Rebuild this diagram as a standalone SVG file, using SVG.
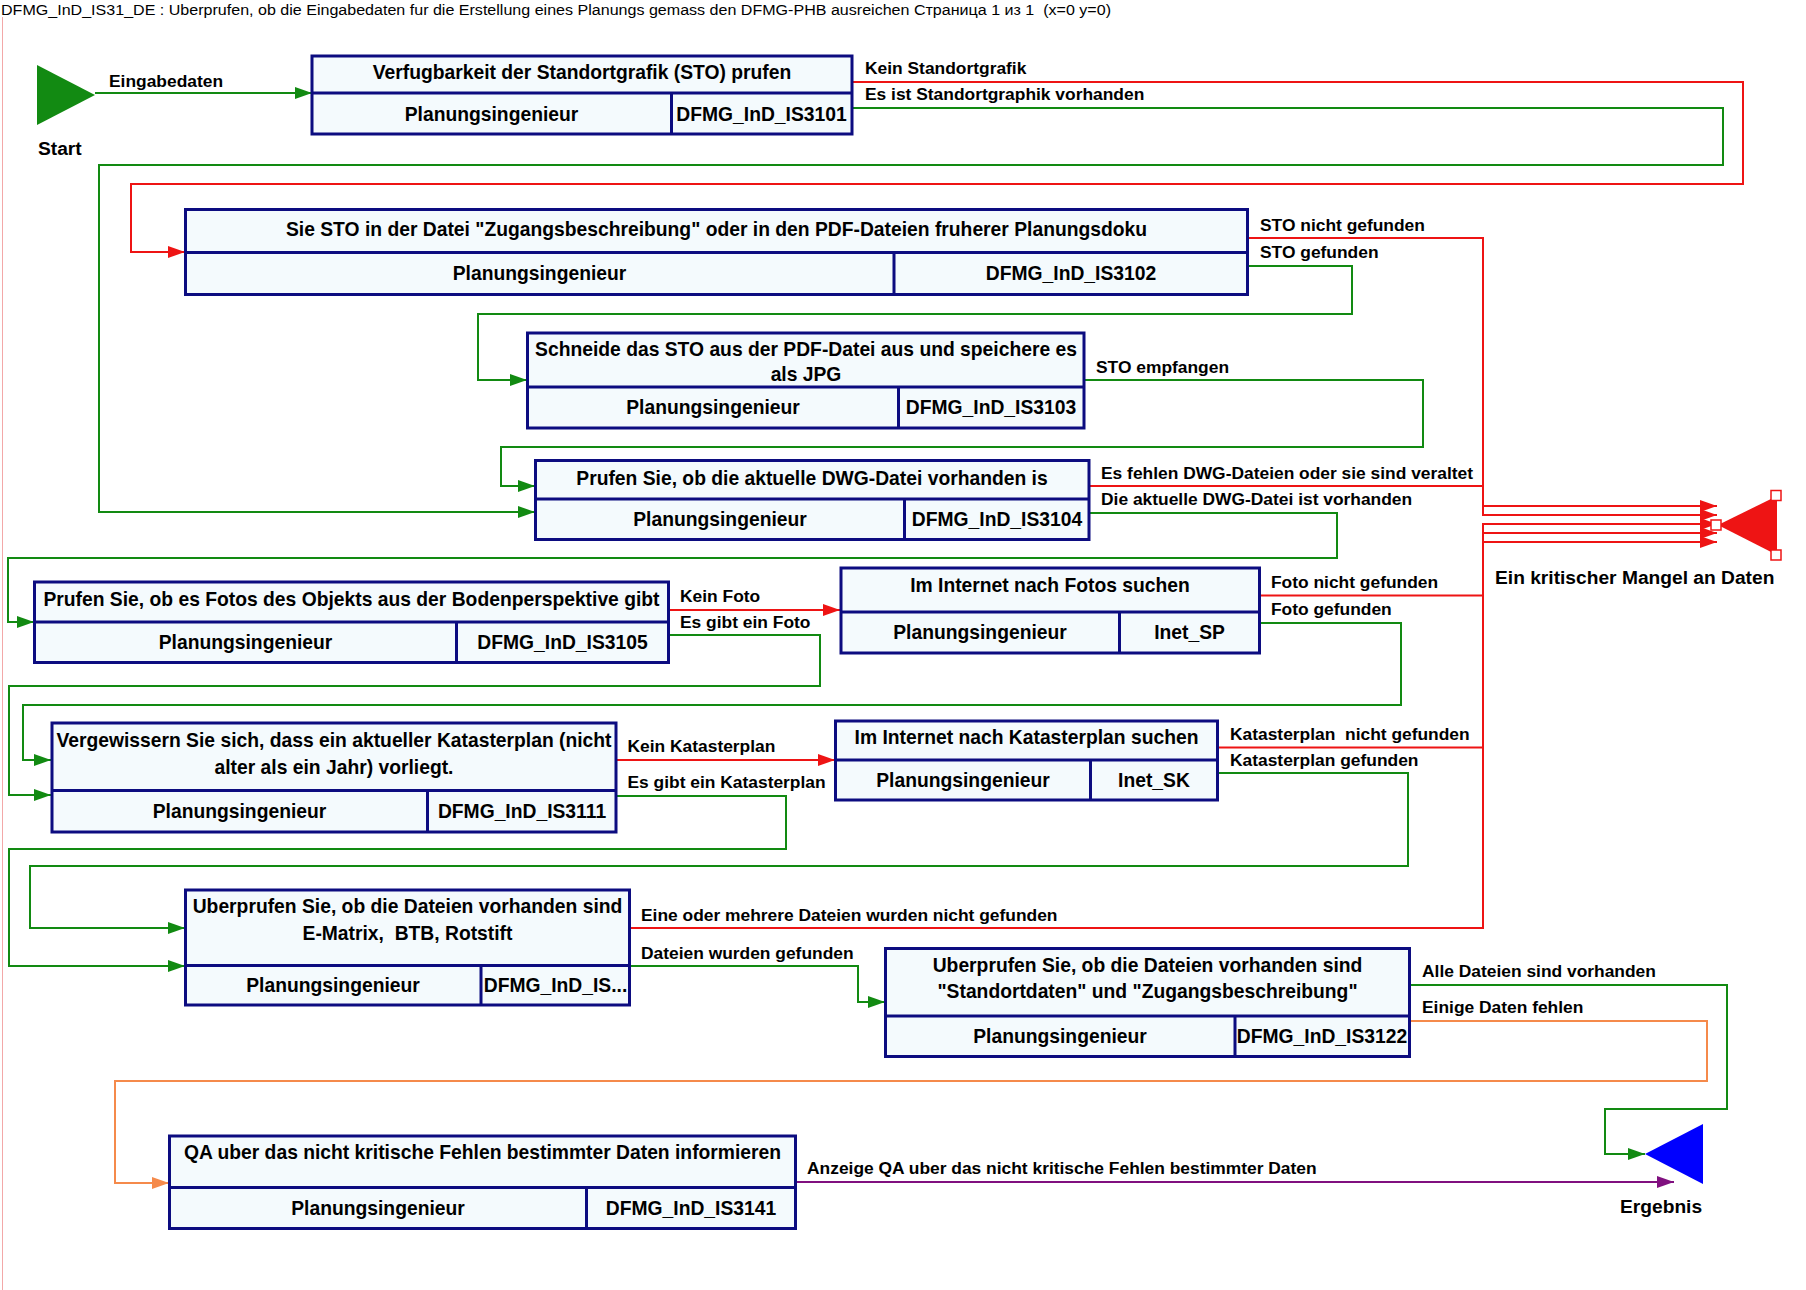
<svg xmlns="http://www.w3.org/2000/svg" width="1806" height="1290" viewBox="0 0 1806 1290">
<style>
.box{fill:#f4fafd;stroke:#0c0c80;stroke-width:3}
.dv{stroke:#0c0c80;stroke-width:3;fill:none}
.t{font-family:"Liberation Sans",Arial,sans-serif;font-weight:bold;font-size:19.3px;text-anchor:middle;fill:#000}
.lb{font-family:"Liberation Sans",Arial,sans-serif;font-weight:bold;font-size:17.4px;fill:#000}
.en{font-family:"Liberation Sans",Arial,sans-serif;font-weight:bold;font-size:19.2px;fill:#000}
.c{fill:none;stroke-width:2}
.g{stroke:#128a12}
.r{stroke:#ee1414}
.o{stroke:#f58a4b}
.p{stroke:#80107f}
.h{fill:#fff;stroke:#ee1414;stroke-width:1.5}
</style>
<defs>
<marker id="ag" viewBox="0 0 17 12" refX="17" refY="6" markerWidth="17" markerHeight="12" markerUnits="userSpaceOnUse" orient="auto"><path d="M0,0 L17,6 L0,12 z" fill="#128a12"/></marker>
<marker id="ar" viewBox="0 0 17 12" refX="17" refY="6" markerWidth="17" markerHeight="12" markerUnits="userSpaceOnUse" orient="auto"><path d="M0,0 L17,6 L0,12 z" fill="#ee1414"/></marker>
<marker id="ao" viewBox="0 0 17 12" refX="17" refY="6" markerWidth="17" markerHeight="12" markerUnits="userSpaceOnUse" orient="auto"><path d="M0,0 L17,6 L0,12 z" fill="#f58a4b"/></marker>
<marker id="ap" viewBox="0 0 17 12" refX="17" refY="6" markerWidth="17" markerHeight="12" markerUnits="userSpaceOnUse" orient="auto"><path d="M0,0 L17,6 L0,12 z" fill="#80107f"/></marker>
</defs>
<rect width="1806" height="1290" fill="#fff"/>
<line x1="2.5" y1="17" x2="2.5" y2="1290" stroke="#f3a8a8" stroke-width="1"/>
<text x="1" y="15" font-family="Liberation Sans,Arial,sans-serif" font-size="14" textLength="1110" lengthAdjust="spacingAndGlyphs" xml:space="preserve">DFMG_InD_IS31_DE : Uberprufen, ob die Eingabedaten fur die Erstellung eines Planungs gemass den DFMG-PHB ausreichen Страница 1 из 1  (x=0 y=0)</text>

<g id="connectors">
<path class="c g" d="M95,93 H312" marker-end="url(#ag)"/>
<path class="c r" d="M852,82 H1743 V184 H131 V252 H185" marker-end="url(#ar)"/>
<path class="c g" d="M852,108 H1723 V165 H99 V512 H535" marker-end="url(#ag)"/>
<path class="c r" d="M1248,238 H1483 V506 H1717" marker-end="url(#ar)"/>
<path class="c g" d="M1248,266 H1352 V314 H478 V380 H527" marker-end="url(#ag)"/>
<path class="c g" d="M1084,380 H1423 V447 H501 V486 H535" marker-end="url(#ag)"/>
<path class="c r" d="M1089,486 H1483 V515 H1717" marker-end="url(#ar)"/>
<path class="c g" d="M1089,513 H1337 V558 H8 V622 H34" marker-end="url(#ag)"/>
<path class="c r" d="M668,610 H840" marker-end="url(#ar)"/>
<path class="c g" d="M668,635 H820 V686 H9 V795 H51" marker-end="url(#ag)"/>
<path class="c r" d="M1260,595.5 H1483 V524 H1717" marker-end="url(#ar)"/>
<path class="c g" d="M1260,623 H1401 V705 H23 V760 H51" marker-end="url(#ag)"/>
<path class="c r" d="M616,760 H835" marker-end="url(#ar)"/>
<path class="c g" d="M616,796 H786 V849 H9 V966 H185" marker-end="url(#ag)"/>
<path class="c r" d="M1218,747.5 H1483 V533 H1717" marker-end="url(#ar)"/>
<path class="c g" d="M1218,773 H1408 V866 H30 V928 H185" marker-end="url(#ag)"/>
<path class="c r" d="M630,928 H1483 V542 H1717" marker-end="url(#ar)"/>
<path class="c g" d="M630,966 H858 V1002 H885" marker-end="url(#ag)"/>
<path class="c g" d="M1410,985 H1727 V1109 H1605 V1154 H1645" marker-end="url(#ag)"/>
<path class="c o" d="M1410,1021 H1707 V1081 H115 V1183 H169" marker-end="url(#ao)"/>
<path class="c p" d="M796,1182 H1674" marker-end="url(#ap)"/>
<g id="connector-labels">
<text class="lb" x="109" y="87">Eingabedaten</text>
<text class="lb" x="865" y="74">Kein Standortgrafik</text>
<text class="lb" x="865" y="100">Es ist Standortgraphik vorhanden</text>
<text class="lb" x="1260" y="231">STO nicht gefunden</text>
<text class="lb" x="1260" y="258">STO gefunden</text>
<text class="lb" x="1096" y="373">STO empfangen</text>
<text class="lb" x="1101" y="479">Es fehlen DWG-Dateien oder sie sind veraltet</text>
<text class="lb" x="1101" y="505">Die aktuelle DWG-Datei ist vorhanden</text>
<text class="lb" x="680" y="602">Kein Foto</text>
<text class="lb" x="680" y="628">Es gibt ein Foto</text>
<text class="lb" x="1271" y="588">Foto nicht gefunden</text>
<text class="lb" x="1271" y="615">Foto gefunden</text>
<text class="lb" x="627.5" y="752">Kein Katasterplan</text>
<text class="lb" x="627.5" y="788">Es gibt ein Katasterplan</text>
<text class="lb" x="1230" y="740" xml:space="preserve">Katasterplan  nicht gefunden</text>
<text class="lb" x="1230" y="766">Katasterplan gefunden</text>
<text class="lb" x="641" y="921">Eine oder mehrere Dateien wurden nicht gefunden</text>
<text class="lb" x="641" y="959">Dateien wurden gefunden</text>
<text class="lb" x="1422" y="977">Alle Dateien sind vorhanden</text>
<text class="lb" x="1422" y="1013">Einige Daten fehlen</text>
<text class="lb" x="807" y="1174">Anzeige QA uber das nicht kritische Fehlen bestimmter Daten</text>
</g>
</g>

<g id="start">
<polygon points="37,65 37,125 95,95" fill="#128a12"/>
<text class="en" x="38" y="155">Start</text>
</g>

<g id="end-critical">
<polygon points="1718,525 1777,496 1777,555" fill="#ee1414"/>
<rect class="h" x="1771" y="490.5" width="10" height="10"/>
<rect class="h" x="1711" y="520" width="10" height="10"/>
<rect class="h" x="1771" y="550" width="10" height="10"/>
<text class="en" x="1495" y="584">Ein kritischer Mangel an Daten</text>
</g>

<g id="end-result">
<polygon points="1645,1154 1703,1124 1703,1184" fill="#0000ff"/>
<text class="en" x="1620" y="1213">Ergebnis</text>
</g>

<g id="n-IS3101">
<rect class="box" x="312" y="56" width="540" height="78"/>
<path class="dv" d="M312,93 H852 M671.5,93 V134"/>
<text class="t" x="582" y="79">Verfugbarkeit der Standortgrafik (STO) prufen</text>
<text class="t" x="491.5" y="120.5">Planungsingenieur</text>
<text class="t" x="761.5" y="120.5">DFMG_InD_IS3101</text>
</g>

<g id="n-IS3102">
<rect class="box" x="185.5" y="209.5" width="1062" height="85"/>
<path class="dv" d="M185.5,252.5 H1247.5 M894,252.5 V294.5"/>
<text class="t" x="716.5" y="235.5">Sie STO in der Datei "Zugangsbeschreibung" oder in den PDF-Dateien fruherer Planungsdoku</text>
<text class="t" x="539.5" y="280">Planungsingenieur</text>
<text class="t" x="1071" y="280">DFMG_InD_IS3102</text>
</g>

<g id="n-IS3103">
<rect class="box" x="527.5" y="333" width="556.5" height="95"/>
<path class="dv" d="M527.5,387 H1084 M898.5,387 V428"/>
<text class="t" x="806" y="355.5">Schneide das STO aus der PDF-Datei aus und speichere es</text>
<text class="t" x="806" y="381">als JPG</text>
<text class="t" x="713" y="414">Planungsingenieur</text>
<text class="t" x="991" y="414">DFMG_InD_IS3103</text>
</g>

<g id="n-IS3104">
<rect class="box" x="535.5" y="460.5" width="553.5" height="79"/>
<path class="dv" d="M535.5,499 H1089 M904.5,499 V539.5"/>
<text class="t" x="812" y="485">Prufen Sie, ob die aktuelle DWG-Datei vorhanden is</text>
<text class="t" x="720" y="526">Planungsingenieur</text>
<text class="t" x="997" y="526">DFMG_InD_IS3104</text>
</g>

<g id="n-IS3105">
<rect class="box" x="34.5" y="582" width="634" height="80.5"/>
<path class="dv" d="M34.5,622 H668.5 M456.5,622 V662.5"/>
<text class="t" x="351.5" y="606">Prufen Sie, ob es Fotos des Objekts aus der Bodenperspektive gibt</text>
<text class="t" x="245.5" y="649">Planungsingenieur</text>
<text class="t" x="562.5" y="649">DFMG_InD_IS3105</text>
</g>

<g id="n-Inet_SP">
<rect class="box" x="841" y="568" width="418.5" height="85"/>
<path class="dv" d="M841,612 H1259.5 M1119.5,612 V653"/>
<text class="t" x="1050" y="592">Im Internet nach Fotos suchen</text>
<text class="t" x="980" y="639">Planungsingenieur</text>
<text class="t" x="1189.5" y="639">Inet_SP</text>
</g>

<g id="n-IS3111">
<rect class="box" x="52" y="723" width="564" height="109"/>
<path class="dv" d="M52,790.5 H616 M427.5,790.5 V832"/>
<text class="t" x="334" y="746.5">Vergewissern Sie sich, dass ein aktueller Katasterplan (nicht</text>
<text class="t" x="334" y="774">alter als ein Jahr) vorliegt.</text>
<text class="t" x="239.5" y="818">Planungsingenieur</text>
<text class="t" x="522" y="818">DFMG_InD_IS3111</text>
</g>

<g id="n-Inet_SK">
<rect class="box" x="835.5" y="721" width="382" height="79"/>
<path class="dv" d="M835.5,760 H1217.5 M1090.5,760 V800"/>
<text class="t" x="1026.5" y="744">Im Internet nach Katasterplan suchen</text>
<text class="t" x="963" y="787">Planungsingenieur</text>
<text class="t" x="1154" y="787">Inet_SK</text>
</g>

<g id="n-IS-files">
<rect class="box" x="185.5" y="890" width="444" height="115"/>
<path class="dv" d="M185.5,965.5 H629.5 M481,965.5 V1005"/>
<text class="t" x="407.5" y="913">Uberprufen Sie, ob die Dateien vorhanden sind</text>
<text class="t" x="407.5" y="940" xml:space="preserve">E-Matrix,  BTB, Rotstift</text>
<text class="t" x="333" y="992">Planungsingenieur</text>
<text class="t" x="555.5" y="992">DFMG_InD_IS...</text>
</g>

<g id="n-IS3122">
<rect class="box" x="885.5" y="948.5" width="524" height="108"/>
<path class="dv" d="M885.5,1016 H1409.5 M1235,1016 V1056.5"/>
<text class="t" x="1147.5" y="971.5">Uberprufen Sie, ob die Dateien vorhanden sind</text>
<text class="t" x="1147.5" y="998">"Standortdaten" und "Zugangsbeschreibung"</text>
<text class="t" x="1060" y="1043">Planungsingenieur</text>
<text class="t" x="1322" y="1043">DFMG_InD_IS3122</text>
</g>

<g id="n-IS3141">
<rect class="box" x="169.5" y="1136" width="626" height="92.5"/>
<path class="dv" d="M169.5,1187.5 H795.5 M586.5,1187.5 V1228.5"/>
<text class="t" x="482.5" y="1159">QA uber das nicht kritische Fehlen bestimmter Daten informieren</text>
<text class="t" x="378" y="1215">Planungsingenieur</text>
<text class="t" x="691" y="1215">DFMG_InD_IS3141</text>
</g>
</svg>
